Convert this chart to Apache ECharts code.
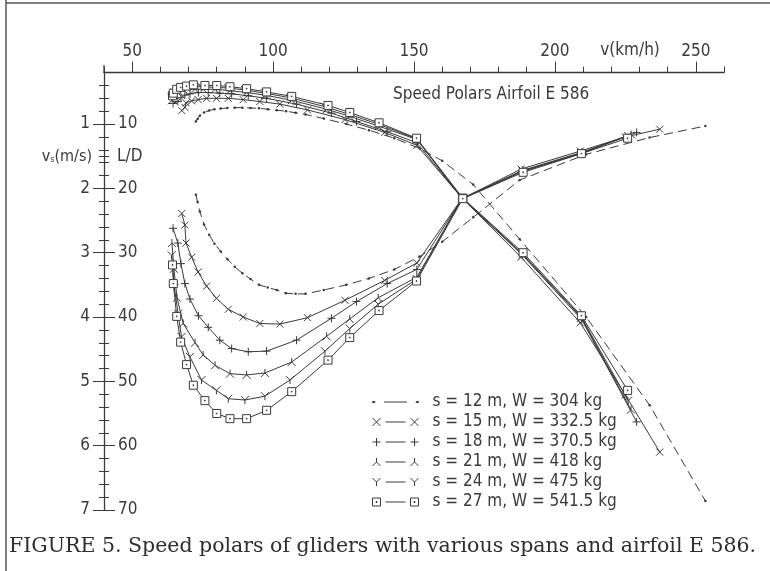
<!DOCTYPE html>
<html><head><meta charset="utf-8">
<script src="https://cdn.jsdelivr.net/npm/echarts@6/dist/echarts.min.js"></script>
<style>html,body{margin:0;padding:0;background:#fff}#c{width:770px;height:571px}</style>
</head><body><div id="c"></div>
<script>
// ---------------- data ----------------
const speedTicks = [40,50,60,70,80,90,100,110,120,130,140,150,160,170,180,190,200,210,220,230,240,250,260];
const speedLabels = [50,100,150,200,250];
const sinkLabels = [1,2,3,4,5,6,7];
const glideLabels = [10,20,30,40,50,60,70];
const sinkMinorTicks = [0.4,0.6,0.8,1.2,1.4,1.5,1.6,1.8,2.2,2.4,2.6,2.8,3.2,3.4,3.6,3.8,4.2,4.4,4.6,4.8,5.2,5.4,5.6,5.8,6.2,6.4,6.6,6.8];

const names = [
  's = 12 m, W = 304 kg',
  's = 15 m, W = 332.5 kg',
  's = 18 m, W = 370.5 kg',
  's = 21 m, W = 418 kg',
  's = 24 m, W = 475 kg',
  's = 27 m, W = 541.5 kg'
];

// speed v (km/h), sink speed vs (m/s), glide ratio L/D
const v12 = [72.6,73.2,74.0,75.5,77.3,79.2,81.4,83.8,86.4,89.1,92.0,95.0,98.1,101.3,104.6,108.0,111.5,118,126,134,143,152,160,171,187.5,211.1,233.6,253.4];
const sink12 = [0.96,0.92,0.87,0.82,0.79,0.77,0.76,0.75,0.745,0.745,0.75,0.755,0.77,0.785,0.80,0.825,0.85,0.915,1.0,1.095,1.22,1.38,1.57,1.94,2.79,4.0,5.37,6.86];
const ld12 = [21.0,22.1,23.6,25.6,27.2,28.6,29.8,31.0,32.2,33.2,34.1,35.0,35.4,35.8,36.3,36.4,36.4,35.8,35.0,34.0,32.6,30.6,28.3,24.5,18.7,14.7,12.1,10.3];

const v15 = [67.6,68.7,69.1,71.1,73.4,76.4,79.9,84.1,89.4,95.3,102.4,112.2,125.5,139.6,151,167,188,209,225,237.2];
const sink15 = [0.79,0.74,0.67,0.64,0.62,0.60,0.60,0.60,0.62,0.65,0.69,0.78,0.93,1.13,1.33,2.15,3.07,4.09,5.21,6.10];
const ld15 = [23.9,25.7,28.5,30.7,33.0,35.2,37.1,38.8,40.0,41.0,41.1,40.1,37.4,34.3,31.6,21.6,17.0,14.2,12.0,10.8];

const v18 = [64.5,66.2,67.3,68.7,70.5,73.5,77.0,81.1,85.3,91.2,97.7,108.3,120.7,129.6,140.5,151,167,188.5,209.5,229];
const sink18 = [0.68,0.65,0.59,0.55,0.53,0.51,0.51,0.52,0.53,0.56,0.60,0.69,0.83,0.96,1.12,1.29,2.15,3.04,4.04,5.63];
const ld18 = [26.2,28.5,31.7,34.8,37.2,39.8,41.6,43.6,44.9,45.4,45.3,43.6,40.2,37.6,34.8,32.6,21.6,17.2,14.4,11.3];

const v21 = [64.1,64.8,65.9,68.1,72.3,75.2,79.4,84.7,90.6,97.1,106.6,119,127.2,137.3,151,167,188.6,209.4,227];
const sink21 = [0.63,0.55,0.50,0.46,0.46,0.46,0.46,0.48,0.51,0.55,0.63,0.77,0.88,1.03,1.24,2.15,3.03,4.01,5.44];
const ld21 = [28.5,32.5,37.0,41.0,44.0,45.9,47.5,48.8,49.0,48.7,47.0,43.0,40.3,37.0,33.8,21.6,17.3,14.5,11.6];

const v24 = [64.0,65.0,66.3,67.5,70.5,74.6,79.9,84.1,90.0,97.1,106.0,118.4,127.2,137.3,151,167,188.6,209.4,226];
const sink24 = [0.59,0.51,0.47,0.44,0.42,0.42,0.43,0.44,0.47,0.52,0.59,0.73,0.85,1.00,1.23,2.15,3.02,4.00,5.30];
const ld24 = [30.4,35.5,39.5,43.1,46.2,49.8,51.4,52.7,52.9,52.3,49.8,45.3,41.8,38.0,34.1,21.6,17.35,14.55,11.85];

const v27 = [64.3,64.6,65.8,67.2,69.3,71.7,75.8,80.0,84.7,90.6,97.7,106.6,119.5,127.2,137.6,150.9,167.3,188.7,209.4,225.8];
const sink27 = [0.56,0.52,0.46,0.43,0.41,0.39,0.40,0.40,0.42,0.45,0.50,0.57,0.71,0.82,0.98,1.22,2.15,3.00,3.98,5.14];
const ld27 = [31.9,34.8,39.9,43.9,47.4,50.6,53.0,55.0,55.8,55.8,54.5,51.6,46.7,43.2,39.0,34.4,21.6,17.5,14.6,12.2];

// ---------------- styling ----------------
const INK = '#3a3a3a';
const FONT = "'DejaVu Sans Condensed','Liberation Sans Narrow','Roboto Condensed',sans-serif";
const SERIF = "'DejaVu Serif','Liberation Serif',serif";
const CLEAR = 'rgba(0,0,0,0)';

const SYM = {
  cross: 'path://M0,0L10,10M10,0L0,10',
  plus: 'path://M5,0V10M0,5H10',
  lambda: 'path://M5,0V5L0,10M5,5L10,10',
  ypsilon: 'path://M0,0L5,5L10,0M5,5V10',
  box: 'path://M0,0H10V10H0ZM4.5,4.5H5.5V5.5H4.5Z'
};
const LEG = [
  'path://M3,3.5H5V4.5H3ZM13,4H33M41,3.5H43V4.5H41Z',
  'path://M0,0L8,8M8,0L0,8M13,4H33M38,0L46,8M46,0L38,8',
  'path://M4,0V8M0,4H8M13,4H33M42,0V8M38,4H46',
  'path://M4,0V4L0,8M4,4L8,8M13,4H33M42,0V4L38,8M42,4L46,8',
  'path://M0,0L4,4L8,0M4,4V8M13,4H33M38,0L42,4L46,0M42,4V8',
  'path://M0,0H8V8H0ZM3.5,3.5H4.5V4.5H3.5ZM13,4H33M38,0H46V8H38ZM41.5,3.5H42.5V4.5H41.5Z'
];

const groups = [
  {v: v12, sink: sink12, ld: ld12, symbol: 'circle', size: 2.5, fill: INK, bw: 0, dash: [9,5]},
  {v: v15, sink: sink15, ld: ld15, symbol: SYM.cross, size: 7, fill: CLEAR, bw: 1, dash: 'solid'},
  {v: v18, sink: sink18, ld: ld18, symbol: SYM.plus, size: 8, fill: CLEAR, bw: 1, dash: 'solid'},
  {v: v21, sink: sink21, ld: ld21, symbol: SYM.lambda, size: 8, fill: CLEAR, bw: 1, dash: 'solid'},
  {v: v24, sink: sink24, ld: ld24, symbol: SYM.ypsilon, size: 8, fill: CLEAR, bw: 1, dash: 'solid'},
  {v: v27, sink: sink27, ld: ld27, symbol: SYM.box, size: 8, fill: '#fff', bw: 1, dash: 'solid'}
];

const zip = (xs, ys) => xs.map((x, i) => [x, ys[i]]);
const series = [];
groups.forEach((g, k) => {
  [['sink', 0], ['ld', 1]].forEach(([key, yi]) => {
    series.push({
      type: 'line', name: names[k], xAxisIndex: 0, yAxisIndex: yi,
      data: zip(g.v, g[key]),
      symbol: g.symbol, symbolSize: g.size, symbolKeepAspect: true, showSymbol: true,
      itemStyle: {color: g.fill, borderColor: INK, borderWidth: g.bw},
      lineStyle: {color: INK, width: 1, type: g.dash},
      emphasis: {disabled: true}, silent: true, z: 3
    });
  });
});

const axisLine = {show: true, lineStyle: {color: INK, width: 1.3}};
const txt = {fontFamily: FONT, fontSize: 17, color: INK};

const option = {
  animation: false,
  backgroundColor: '#fff',
  grid: {left: 104, top: 72.6, width: 620, height: 437.4, containLabel: false},
  xAxis: [
    {type: 'value', position: 'top', min: 40, max: 260, axisLine: axisLine,
     axisTick: {show: true, customValues: speedTicks, length: 6, lineStyle: {color: INK, width: 1}},
     axisLabel: Object.assign({show: true, customValues: speedLabels, margin: 13}, txt),
     splitLine: {show: false}},
    {type: 'value', position: 'top', min: 40, max: 260, axisLine: {show: false},
     axisTick: {show: true, customValues: speedLabels, length: 11, lineStyle: {color: INK, width: 1}},
     axisLabel: {show: false}, splitLine: {show: false}}
  ],
  yAxis: [
    {type: 'value', position: 'left', inverse: true, min: 0.2, max: 7, axisLine: axisLine,
     axisTick: {show: true, customValues: sinkLabels, length: 11, lineStyle: {color: INK, width: 1}},
     axisLabel: Object.assign({show: true, customValues: sinkLabels, margin: 14}, txt),
     splitLine: {show: false}},
    {type: 'value', position: 'left', inverse: true, min: 2, max: 70, axisLine: {show: false},
     axisTick: {show: true, inside: true, customValues: glideLabels, length: 11, lineStyle: {color: INK, width: 1}},
     axisLabel: Object.assign({show: true, inside: true, customValues: glideLabels, margin: 14}, txt),
     splitLine: {show: false}},
    {type: 'value', position: 'left', inverse: true, min: 0.2, max: 7, axisLine: {show: false},
     axisTick: {show: true, customValues: sinkMinorTicks, length: 5, lineStyle: {color: INK, width: 1}},
     axisLabel: {show: false}, splitLine: {show: false}},
    {type: 'value', position: 'left', inverse: true, min: 0.2, max: 7, axisLine: {show: false},
     axisTick: {show: true, inside: true, customValues: sinkMinorTicks, length: 5, lineStyle: {color: INK, width: 1}},
     axisLabel: {show: false}, splitLine: {show: false}}
  ],
  legend: {
    orient: 'vertical', left: 367, top: 388, itemWidth: 46, itemHeight: 8, itemGap: 2,
    selectedMode: false,
    data: names.map((n, i) => ({name: n, icon: LEG[i]})),
    itemStyle: {color: CLEAR, borderColor: INK, borderWidth: 1},
    textStyle: {fontFamily: FONT, fontSize: 17, color: INK, lineHeight: 18, padding: [0, 0, 0, 9]}
  },
  graphic: [
    {type: 'line', shape: {x1: 6, y1: 0, x2: 6, y2: 571}, style: {stroke: '#555', lineWidth: 1.5}},
    {type: 'line', shape: {x1: 6, y1: 3, x2: 770, y2: 3}, style: {stroke: '#555', lineWidth: 1.5}},
    {type: 'line', shape: {x1: 104, y1: 65, x2: 104, y2: 73}, style: {stroke: INK, lineWidth: 1.3}},
    {type: 'text', x: 630, y: 51, style: {text: 'v(km/h)', fontFamily: FONT, fontSize: 17, fill: INK, align: 'center', verticalAlign: 'middle'}},
    {type: 'text', x: 393, y: 95, style: {text: 'Speed Polars Airfoil E 586', fontFamily: FONT, fontSize: 17, fill: INK, align: 'left', verticalAlign: 'middle'}},
    {type: 'text', x: 92, y: 157, style: {text: 'v{s|s}(m/s)', fontFamily: FONT, fontSize: 16, fill: INK, align: 'right', verticalAlign: 'middle',
      rich: {s: {fontFamily: FONT, fontSize: 9, fill: INK, padding: [6, 0, 0, 0]}}}},
    {type: 'text', x: 117, y: 157, style: {text: 'L/D', fontFamily: FONT, fontSize: 17, fill: INK, align: 'left', verticalAlign: 'middle'}},
    {type: 'text', x: 9, y: 547, style: {text: 'FIGURE 5. Speed polars of gliders with various spans and airfoil E 586.', fontFamily: SERIF, fontSize: 20.5, fill: '#2e2e2e', align: 'left', verticalAlign: 'middle'}}
  ],
  series: series
};

const chart = echarts.init(document.getElementById('c'));
chart.setOption(option);
</script>
</body></html>
